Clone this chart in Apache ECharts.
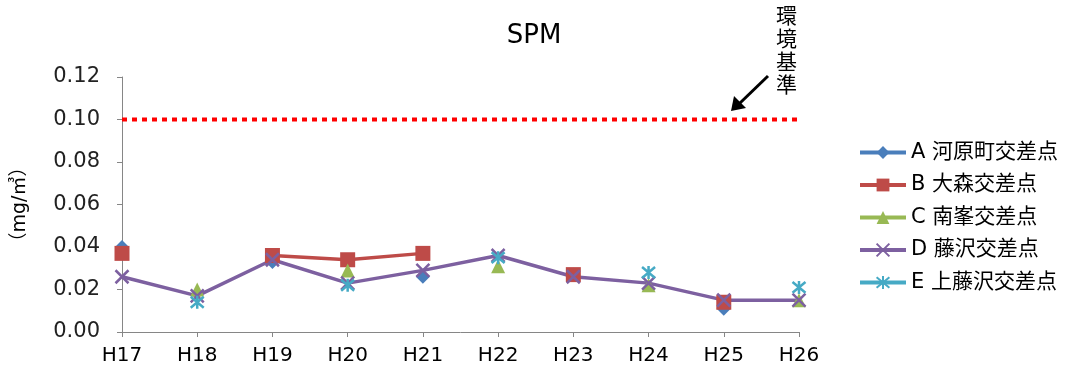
<!DOCTYPE html>
<html>
<head>
<meta charset="utf-8">
<script src="https://cdn.jsdelivr.net/npm/echarts@6/dist/echarts.min.js"></script>
<style>html,body{margin:0;padding:0;background:#fff;}#c{width:1068px;height:369px;}</style>
</head>
<body>
<div id="c"></div>
<script>
const categories = ['H17','H18','H19','H20','H21','H22','H23','H24','H25','H26'];
const seriesNames = ['A 河原町交差点','B 大森交差点','C 南峯交差点','D 藤沢交差点','E 上藤沢交差点'];
const dataA = [0.040, null, 0.033, null, 0.026, null, 0.027, null, 0.011, null];
const dataB = [0.037, null, 0.036, 0.034, 0.037, null, 0.027, null, 0.014, null];
const dataC = [null, 0.020, null, 0.029, null, 0.031, null, 0.022, null, 0.015];
const dataD = [0.026, 0.017, 0.034, 0.023, 0.029, 0.036, 0.026, 0.023, 0.015, 0.015];
const dataE = [null, 0.014, null, 0.022, null, 0.035, null, 0.028, null, 0.021];
const standard = [0.10, 0.10, 0.10, 0.10, 0.10, 0.10, 0.10, 0.10, 0.10, 0.10];
const yTicks = { min: 0, max: 0.12, interval: 0.02 };
const titleText = 'SPM';
const yName = '（mg/㎥）';
const noteText = '環境基準';

const FONT = '"DejaVu Sans", "Noto Sans CJK JP", sans-serif';
const colors = ['#4A7EBB', '#BE4B48', '#98B954', '#7D60A0', '#46AAC5'];
const X_PATH = 'path://M0,0L10,10M10,0L0,10';
const AST_PATH = 'path://M0,0L10,10M10,0L0,10M5,-1L5,11';

function mk(name, data, color, symbol, size, extra) {
  return Object.assign({
    name: name, type: 'line', data: data, connectNulls: false,
    symbol: symbol, symbolSize: size,
    lineStyle: { color: color, width: 3.5 },
    itemStyle: { color: color },
    emphasis: { disabled: true }, animation: false
  }, extra || {});
}

const chart = echarts.init(document.getElementById('c'), null, { renderer: 'canvas' });
chart.setOption({
  animation: false,
  title: { text: titleText, left: 'center', top: 18, textStyle: { fontFamily: FONT, fontSize: 26, fontWeight: 'normal', color: '#000' } },
  grid: { left: 122, right: 269, top: 77, bottom: 37 },
  legend: {
    orient: 'vertical', left: 853, top: 137, itemWidth: 46, itemHeight: 16, itemGap: 11.5,
    data: seriesNames,
    lineStyle: { width: 4 },
    textStyle: { fontFamily: FONT, fontSize: 21, color: '#000', lineHeight: 20 }
  },
  xAxis: {
    type: 'category', data: categories, boundaryGap: false,
    axisLine: { lineStyle: { color: '#868686', width: 1 } },
    axisTick: { show: true, alignWithLabel: true, length: 5, lineStyle: { color: '#868686' } },
    axisLabel: { fontFamily: FONT, fontSize: 20, color: '#000', margin: 14 },
    splitLine: { show: false }
  },
  yAxis: {
    type: 'value', min: yTicks.min, max: yTicks.max, interval: yTicks.interval,
    name: yName, nameLocation: 'middle', nameGap: 92, nameRotate: 90,
    nameTextStyle: { fontFamily: FONT, fontSize: 19, color: '#000' },
    axisLine: { show: true, lineStyle: { color: '#868686', width: 1 } },
    axisTick: { show: true, length: 5, lineStyle: { color: '#868686' } },
    axisLabel: { fontFamily: FONT, fontSize: 21, color: '#222', margin: 22, formatter: v => v.toFixed(2) },
    splitLine: { show: false }
  },
  series: [
    { name: '環境基準線', type: 'line', data: standard, symbol: 'none', silent: true,
      lineStyle: { color: '#FF0000', width: 4, type: [5, 5], cap: 'butt' }, animation: false, z: 1 },
    mk(seriesNames[0], dataA, colors[0], 'diamond', 14),
    mk(seriesNames[1], dataB, colors[1], 'rect', 15),
    mk(seriesNames[2], dataC, colors[2], 'triangle', 14),
    mk(seriesNames[3], dataD, colors[3], X_PATH, 13, { itemStyle: { color: colors[3], borderColor: colors[3], borderWidth: 2.5 } }),
    mk(seriesNames[4], dataE, colors[4], AST_PATH, 13, { itemStyle: { color: colors[4], borderColor: colors[4], borderWidth: 2.5 } })
  ],
  graphic: [
    { type: 'text', left: 776, top: 6, style: { text: noteText.split('').join('\n'), fontFamily: FONT, fontSize: 21, lineHeight: 23, fill: '#000' } },
    { type: 'line', shape: { x1: 768, y1: 76, x2: 740, y2: 103 }, style: { stroke: '#000', lineWidth: 3 } },
    { type: 'polygon', shape: { points: [[731, 111], [734, 96], [746, 108]] }, style: { fill: '#000' } }
  ]
});
</script>
</body>
</html>
